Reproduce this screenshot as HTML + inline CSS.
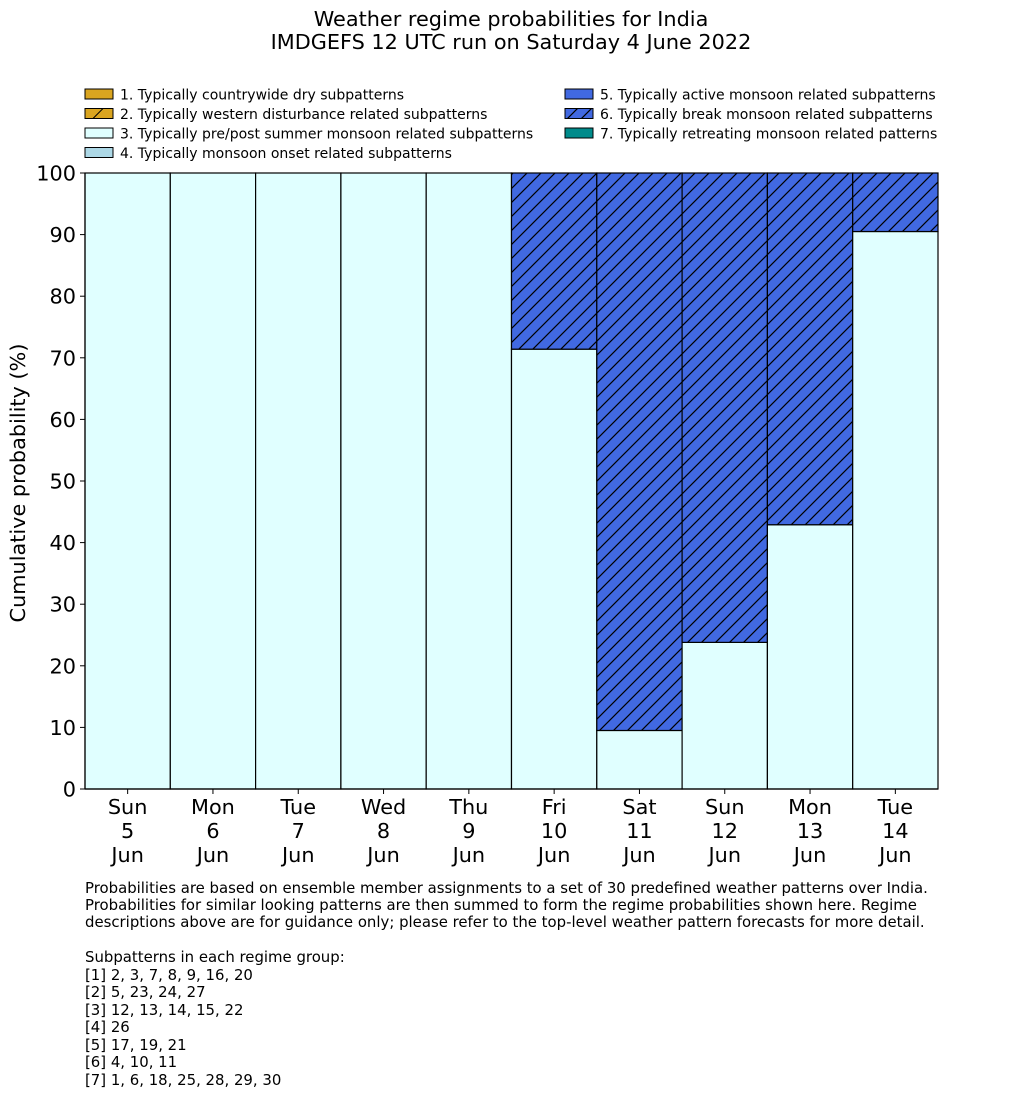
<!DOCTYPE html>
<html><head><meta charset="utf-8"><style>
body{margin:0;background:#fff;width:1033px;height:1114px;overflow:hidden;font-family:"DejaVu Sans","Liberation Sans",sans-serif;}
</style></head><body>
<svg id="chart" width="1033" height="1114" xmlns="http://www.w3.org/2000/svg" font-family="DejaVu Sans, Liberation Sans, sans-serif">
<defs>
<pattern id="hatch" patternUnits="userSpaceOnUse" width="14" height="14">
<rect width="14" height="14" fill="#4169e1"/>
<path d="M-2,16 L16,-2 M-2,2 L2,-2 M12,16 L16,12" stroke="#000" stroke-width="1.2"/>
</pattern>
</defs>
<text x="511" y="26" font-size="20.8" text-anchor="middle">Weather regime probabilities for India</text>
<text x="511" y="49" font-size="20.8" text-anchor="middle">IMDGEFS 12 UTC run on Saturday 4 June 2022</text>
<g id="legend" font-size="14"></g>
<g id="bars"></g>
<g id="axes"></g>
<g font-size="14.9">
<text x="85" y="893">Probabilities are based on ensemble member assignments to a set of 30 predefined weather patterns over India.</text>
<text x="85" y="910">Probabilities for similar looking patterns are then summed to form the regime probabilities shown here. Regime</text>
<text x="85" y="927">descriptions above are for guidance only; please refer to the top-level weather pattern forecasts for more detail.</text>
<text x="85" y="962">Subpatterns in each regime group:</text>
<text x="85" y="980">[1] 2, 3, 7, 8, 9, 16, 20</text>
<text x="85" y="997">[2] 5, 23, 24, 27</text>
<text x="85" y="1015">[3] 12, 13, 14, 15, 22</text>
<text x="85" y="1032">[4] 26</text>
<text x="85" y="1050">[5] 17, 19, 21</text>
<text x="85" y="1067">[6] 4, 10, 11</text>
<text x="85" y="1085">[7] 1, 6, 18, 25, 28, 29, 30</text>
</g>
</svg>
<script>
const days=["Sun","Mon","Tue","Wed","Thu","Fri","Sat","Sun","Mon","Tue"];
const dates=["5","6","7","8","9","10","11","12","13","14"];
const preMonsoon=[100,100,100,100,100,71.4,9.5,23.8,42.9,90.5];
const breakMonsoon=[0,0,0,0,0,28.6,90.5,76.2,57.1,9.5];
const yTicks=[0,10,20,30,40,50,60,70,80,90,100];
const legendLabels=["1. Typically countrywide dry subpatterns","2. Typically western disturbance related subpatterns","3. Typically pre/post summer monsoon related subpatterns","4. Typically monsoon onset related subpatterns","5. Typically active monsoon related subpatterns","6. Typically break monsoon related subpatterns","7. Typically retreating monsoon related patterns"];
const legendFills=["#daa520","#daa520","#e0ffff","#add8e6","#4169e1","url(#hatch)","#008b8b"];
const NS="http://www.w3.org/2000/svg";
const X0=85,X1=938,Y0=789,Y1=173;
const bw=(X1-X0)/days.length;
const xs=i=>X0+i*bw;
const ys=v=>Y0-(v/100)*(Y0-Y1);
function mk(t,a,p){const e=document.createElementNS(NS,t);for(const k in a)e.setAttribute(k,a[k]);p.appendChild(e);return e;}
const bars=document.getElementById('bars'),axes=document.getElementById('axes'),leg=document.getElementById('legend');
legendLabels.forEach((l,i)=>{
 const col=i<4?0:1,row=i<4?i:i-4;
 const lx=col?565:85,ly=89+row*19.5;
 const g=mk('g',{},leg);
 
 
 if(i===1){mk('rect',{x:lx,y:ly,width:28,height:10,fill:"#daa520",stroke:"#000"},g);mk('path',{d:`M${lx+8},${ly+10} L${lx+18},${ly}`,stroke:"#000"},g);}
 else mk('rect',{x:lx,y:ly,width:28,height:10,fill:legendFills[i],stroke:"#000"},g);
 const t=mk('text',{x:lx+35,y:ly+10.5},g);t.textContent=l;
});
days.forEach((d,i)=>{
 const b=mk('rect',{x:xs(i),y:ys(preMonsoon[i]),width:bw,height:ys(0)-ys(preMonsoon[i]),fill:"#e0ffff",stroke:"#000","stroke-width":1.2},bars);
 
 
 if(breakMonsoon[i]>0){
  const top=preMonsoon[i]+breakMonsoon[i];
  const h=mk('rect',{x:xs(i),y:ys(top),width:bw,height:ys(preMonsoon[i])-ys(top),fill:"url(#hatch)",stroke:"#000","stroke-width":1.2},bars);
  
  
 }
 const lbls=[d,dates[i],"Jun"];
 lbls.forEach((s,k)=>{const t=mk('text',{x:xs(i)+bw/2,y:814+k*24,"font-size":20.8,"text-anchor":"middle"},axes);t.textContent=s;
  
  });
 mk('line',{x1:xs(i)+bw/2,x2:xs(i)+bw/2,y1:Y0,y2:Y0+5,stroke:"#000"},axes);
});
mk('line',{x1:X0,x2:X0,y1:Y1,y2:Y0,stroke:"#000","stroke-width":1.2},axes);
mk('line',{x1:X0,x2:X1,y1:Y0,y2:Y0,stroke:"#000","stroke-width":1.2},axes);
yTicks.forEach(v=>{
 mk('line',{x1:X0-5,x2:X0,y1:ys(v),y2:ys(v),stroke:"#000"},axes);
 const t=mk('text',{x:X0-9,y:ys(v)+7.5,"font-size":20.8,"text-anchor":"end"},axes);t.textContent=v;
 
 
});
const yt=mk('text',{x:0,y:0,"font-size":20.8,"text-anchor":"middle",transform:`translate(25,${(Y0+Y1)/2+2}) rotate(-90)`},axes);
yt.textContent="Cumulative probability (%)";


</script>
</body></html>
